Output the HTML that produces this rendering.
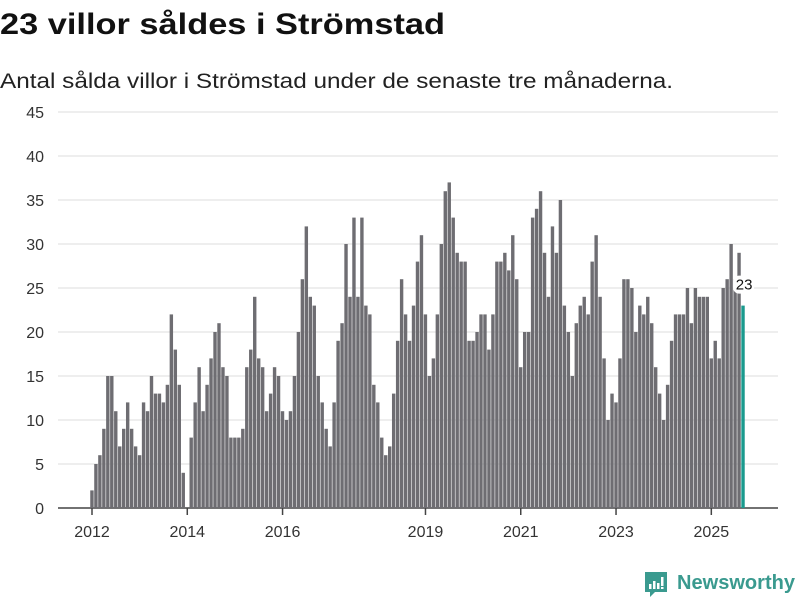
<!DOCTYPE html>
<html><head><meta charset="utf-8"><style>
body{margin:0;background:#fff;width:800px;height:600px;overflow:hidden;font-family:"Liberation Sans","DejaVu Sans",sans-serif;}
</style></head><body>
<svg width="800" height="600" xmlns="http://www.w3.org/2000/svg">
<text x="0" y="34" font-size="30" font-weight="bold" fill="#111" textLength="445" lengthAdjust="spacingAndGlyphs">23 villor såldes i Strömstad</text>
<text x="0" y="88" font-size="21" fill="#222" textLength="673" lengthAdjust="spacingAndGlyphs">Antal sålda villor i Strömstad under de senaste tre månaderna.</text>
<g id="grid"></g>
<g id="bars"></g>
<g id="xaxis"></g>
<g>
<path d="M645 572 h22 v20 h-12 l-5 5 v-5 h-5 z" fill="#3a9a8f"/>
<rect x="649" y="584" width="2.5" height="5" fill="#fff"/><rect x="653" y="581" width="2.5" height="8" fill="#fff"/><rect x="657" y="583" width="2.5" height="6" fill="#fff"/><rect x="661" y="577" width="2.5" height="9" fill="#fff"/><rect x="661" y="587" width="2.5" height="2" fill="#fff"/>
<text x="677" y="589" font-size="20" font-weight="bold" fill="#3a9a8f" textLength="118" lengthAdjust="spacingAndGlyphs">Newsworthy</text>
</g>
</svg>
<script>
const values = [
2,5,6,9,15,15,11,7,9,12,9,7,
6,12,11,15,13,13,12,14,22,18,14,4,
0,8,12,16,11,14,17,20,21,16,15,8,
8,8,9,16,18,24,17,16,11,13,16,15,
11,10,11,15,20,26,32,24,23,15,12,9,
7,12,19,21,30,24,33,24,33,23,22,14,
12,8,6,7,13,19,26,22,19,23,28,31,
22,15,17,22,30,36,37,33,29,28,28,19,
19,20,22,22,18,22,28,28,29,27,31,26,
16,20,20,33,34,36,29,24,32,29,35,23,
20,15,21,23,24,22,28,31,24,17,10,13,
12,17,26,26,25,20,23,22,24,21,16,13,
10,14,19,22,22,22,25,21,25,24,24,24,
17,19,17,25,26,30,26,29,23];
const yTicks = [0,5,10,15,20,25,30,35,40,45];
const xTickYears = [2012,2014,2016,2019,2021,2023,2025];
const startYear = 2012;
const NS="http://www.w3.org/2000/svg";
const y = v => 508 - v*8.8;
const xi = i => 92 + i*3.97;
const grid=document.getElementById('grid');
yTicks.forEach(t=>{
  const l=document.createElementNS(NS,'line');
  l.setAttribute('x1',58);l.setAttribute('x2',778);l.setAttribute('y1',y(t));l.setAttribute('y2',y(t));
  l.setAttribute('stroke', t===0?'#444':'#ddd');l.setAttribute('stroke-width',t===0?1.5:1);
  
  
  grid.appendChild(l);
  const tx=document.createElementNS(NS,'text');
  tx.setAttribute('x',44);tx.setAttribute('y',y(t)+6);tx.setAttribute('text-anchor','end');
  tx.setAttribute('font-size',16);tx.setAttribute('fill','#333');tx.textContent=t;
  
  
  grid.appendChild(tx);
});
const bars=document.getElementById('bars');
values.forEach((v,i)=>{
  if(!v) return;
  const r=document.createElementNS(NS,'rect');
  const last=i===values.length-1;
  r.setAttribute('x',xi(i)-1.75);r.setAttribute('width',3.4);
  r.setAttribute('y',y(v));r.setAttribute('height',508-y(v));
  r.setAttribute('fill',last?'#1a9a8e':'#6e6d72');
  
  
  bars.appendChild(r);
});
const li=values.length-1, lv=values[li];
const bg=document.createElementNS(NS,'rect');
bg.setAttribute('x',xi(li)-10);bg.setAttribute('y',y(lv)-30);bg.setAttribute('width',21);bg.setAttribute('height',18);bg.setAttribute('rx',6);bg.setAttribute('fill','#fff');


bars.appendChild(bg);
const lab=document.createElementNS(NS,'text');
lab.setAttribute('x',xi(li)+1);lab.setAttribute('y',y(lv)-16);lab.setAttribute('text-anchor','middle');lab.setAttribute('font-size',15);lab.setAttribute('fill','#111');lab.textContent=lv;


bars.appendChild(lab);
const xa=document.getElementById('xaxis');
xTickYears.forEach(yr=>{
  const x=xi((yr-startYear)*12);
  const t=document.createElementNS(NS,'line');
  t.setAttribute('x1',x);t.setAttribute('x2',x);t.setAttribute('y1',508);t.setAttribute('y2',515);t.setAttribute('stroke','#444');t.setAttribute('stroke-width',1.5);
  
  
  xa.appendChild(t);
  const tx=document.createElementNS(NS,'text');
  tx.setAttribute('x',x);tx.setAttribute('y',537);tx.setAttribute('text-anchor','middle');tx.setAttribute('font-size',16);tx.setAttribute('fill','#333');tx.textContent=yr;
  
  
  xa.appendChild(tx);
});
</script>
</body></html>
